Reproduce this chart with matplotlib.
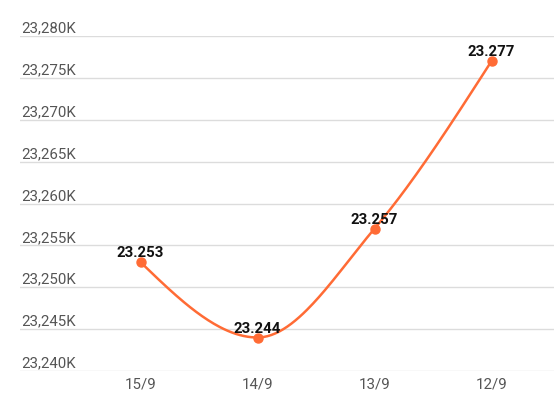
import numpy as np
import matplotlib
matplotlib.use("Agg")
import matplotlib.pyplot as plt
import matplotlib.transforms as mtrans

plt.rcParams['font.family'] = ['Roboto', 'DejaVu Sans']

# podaci
dates = ["15/9", "14/9", "13/9", "12/9"]
values = [23.253, 23.244, 23.257, 23.277]   # u hiljadama (K)
value_labels = ["23.253", "23.244", "23.257", "23.277"]
y_ticks = [23240, 23245, 23250, 23255, 23260, 23265, 23270, 23275, 23280]
y_tick_labels = ["23,240K", "23,245K", "23,250K", "23,255K", "23,260K",
                 "23,265K", "23,270K", "23,275K", "23,280K"]

line_color = "#ff6b35"


# monotona kubna kriva (kao d3 curveMonotoneX) za glatku liniju
def monotone_curve(x, y, n=60):
    x = np.asarray(x, float)
    y = np.asarray(y, float)
    h = np.diff(x)
    s = np.diff(y) / h
    m = np.zeros(len(x))
    for i in range(1, len(x) - 1):
        if s[i - 1] * s[i] <= 0:
            m[i] = 0
        else:
            p = (s[i - 1] * h[i] + s[i] * h[i - 1]) / (h[i - 1] + h[i])
            m[i] = (np.sign(s[i - 1]) + np.sign(s[i])) * min(abs(s[i - 1]), abs(s[i]), 0.5 * abs(p))
    # krajnje tangente kao u d3
    m[0] = (3 * s[0] - m[1]) / 2
    m[-1] = (3 * s[-1] - m[-2]) / 2
    xs, ys = [], []
    for i in range(len(x) - 1):
        t = np.linspace(0, 1, n)
        h00 = 2 * t**3 - 3 * t**2 + 1
        h10 = t**3 - 2 * t**2 + t
        h01 = -2 * t**3 + 3 * t**2
        h11 = t**3 - t**2
        xs.append(x[i] + t * h[i])
        ys.append(h00 * y[i] + h10 * h[i] * m[i] + h01 * y[i + 1] + h11 * h[i] * m[i + 1])
    return np.concatenate(xs), np.concatenate(ys)


W, H = 554, 413
fig = plt.figure(figsize=(W / 100, H / 100), dpi=100)
ax = fig.add_axes([20 / W, (H - 371) / H, (W - 20) / W, (371 - 36) / H])

xpos = np.arange(len(dates))
yvals = np.array(values) * 1000

cx, cy = monotone_curve(xpos, yvals)
ax.plot(cx, cy, color=line_color, lw=1.8, zorder=3, solid_capstyle='round')
ax.plot(xpos, yvals, 'o', color=line_color, markersize=6.5, zorder=4)

for x, y, lab in zip(xpos, yvals, value_labels):
    ax.annotate(lab, (x, y), xytext=(0, 3.5), textcoords='offset points',
                ha='center', va='baseline', fontsize=10.8, fontweight='bold',
                color='#111111', zorder=5)

ax.set_xlim((20 - 140.5) / 117, (554 - 140.5) / 117)
ax.set_ylim(23240, 23280)

ax.set_yticks(y_ticks)
ax.set_yticklabels([])
ax.tick_params(axis='y', length=0)
ax.yaxis.grid(True, color='#dcdcdc', lw=1)
ax.set_axisbelow(True)

# y labele iznad linija mreže, unutar grafika
tr = mtrans.blended_transform_factory(ax.transAxes, ax.transData) + \
    mtrans.ScaledTranslation(1 / 100, 3.5 / 100, fig.dpi_scale_trans)
for yt, lab in zip(y_ticks, y_tick_labels):
    ax.text(0, yt, lab, transform=tr, ha='left', va='baseline',
            fontsize=10.8, color='#555555')

ax.set_xticks(xpos)
ax.set_xticklabels(dates, fontsize=10.8, color='#555555')
ax.tick_params(axis='x', length=0, pad=5)

for sp in ax.spines.values():
    sp.set_visible(False)

fig.savefig("out.png", dpi=100)
